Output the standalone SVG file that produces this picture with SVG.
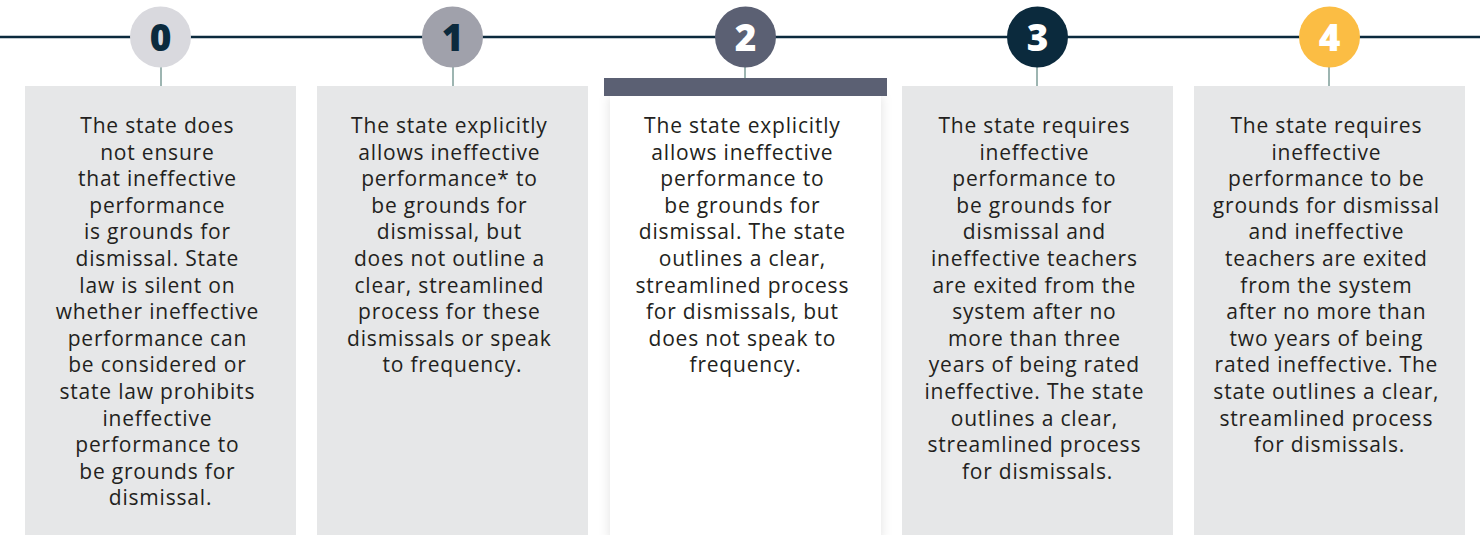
<svg xmlns="http://www.w3.org/2000/svg" width="1480" height="535" viewBox="0 0 1480 535">
  <defs>
    <filter id="lift" x="-10%" y="-10%" width="120%" height="120%">
      <feDropShadow dx="0" dy="0" stdDeviation="6" flood-color="#000" flood-opacity="0.12"/>
    </filter>
    <style>
      .card { fill: #e6e7e8; }
      .stem { stroke: #9db5b1; stroke-width: 2; }
      .rail { stroke: #0b2a3d; stroke-width: 2.5; fill: none; }
      .num { font-family: "Open Sans", "Liberation Sans", sans-serif; font-weight: 800; font-size: 37px; text-anchor: middle; }
      .body { font-family: "Open Sans", "Liberation Sans", sans-serif; font-size: 21px; letter-spacing: 0.8px; fill: #231f20; text-anchor: middle; }
    </style>
  </defs>
  <rect width="1480" height="535" fill="#ffffff"/>

  <!-- timeline rail and stems -->
  <g id="connectors">
    <line class="rail" x1="0" y1="37" x2="1480" y2="37"/>
    <line class="stem" x1="161" y1="67" x2="161" y2="86"/>
    <line class="stem" x1="453" y1="67" x2="453" y2="86"/>
    <line class="stem" x1="745" y1="67" x2="745" y2="78"/>
    <line class="stem" x1="1037" y1="67" x2="1037" y2="86"/>
    <line class="stem" x1="1329" y1="67" x2="1329" y2="86"/>
  </g>

  <g id="level-0">
    <circle cx="160.5" cy="37" r="30.5" fill="#d9d9de"/>
    <text class="num" x="160.5" y="50.5" fill="#0b2a3d">0</text>
    <rect class="card" x="25" y="86" width="271" height="449"/>
    <text class="body">
      <tspan x="160.5" y="133">The state does</tspan>
      <tspan x="160.5" y="159.6">not ensure</tspan>
      <tspan x="160.5" y="186.2">that ineffective</tspan>
      <tspan x="160.5" y="212.8">performance</tspan>
      <tspan x="160.5" y="239.4">is grounds for</tspan>
      <tspan x="160.5" y="266">dismissal. State</tspan>
      <tspan x="160.5" y="292.6">law is silent on</tspan>
      <tspan x="160.5" y="319.2">whether ineffective</tspan>
      <tspan x="160.5" y="345.8">performance can</tspan>
      <tspan x="160.5" y="372.4">be considered or</tspan>
      <tspan x="160.5" y="399">state law prohibits</tspan>
      <tspan x="160.5" y="425.6">ineffective</tspan>
      <tspan x="160.5" y="452.2">performance to</tspan>
      <tspan x="160.5" y="478.8">be grounds for</tspan>
      <tspan x="160.5" y="505.4">dismissal.</tspan>
    </text>
  </g>

  <g id="level-1">
    <circle cx="452.5" cy="37" r="30.5" fill="#a0a1ab"/>
    <text class="num" x="452.5" y="50.5" fill="#0b2a3d">1</text>
    <rect class="card" x="317" y="86" width="271" height="449"/>
    <text class="body">
      <tspan x="452.5" y="133">The state explicitly</tspan>
      <tspan x="452.5" y="159.6">allows ineffective</tspan>
      <tspan x="452.5" y="186.2">performance* to</tspan>
      <tspan x="452.5" y="212.8">be grounds for</tspan>
      <tspan x="452.5" y="239.4">dismissal, but</tspan>
      <tspan x="452.5" y="266">does not outline a</tspan>
      <tspan x="452.5" y="292.6">clear, streamlined</tspan>
      <tspan x="452.5" y="319.2">process for these</tspan>
      <tspan x="452.5" y="345.8">dismissals or speak</tspan>
      <tspan x="452.5" y="372.4">to frequency.</tspan>
    </text>
  </g>

  <g id="level-2">
    <circle cx="745.5" cy="37" r="30.5" fill="#5b6073"/>
    <text class="num" x="745.5" y="50.5" fill="#ffffff">2</text>
    <rect x="610" y="96" width="271" height="445" fill="#ffffff" filter="url(#lift)"/>
    <rect x="604" y="78" width="283" height="18" fill="#5b6073"/>
    <text class="body">
      <tspan x="745.5" y="133">The state explicitly</tspan>
      <tspan x="745.5" y="159.6">allows ineffective</tspan>
      <tspan x="745.5" y="186.2">performance to</tspan>
      <tspan x="745.5" y="212.8">be grounds for</tspan>
      <tspan x="745.5" y="239.4">dismissal. The state</tspan>
      <tspan x="745.5" y="266">outlines a clear,</tspan>
      <tspan x="745.5" y="292.6">streamlined process</tspan>
      <tspan x="745.5" y="319.2">for dismissals, but</tspan>
      <tspan x="745.5" y="345.8">does not speak to</tspan>
      <tspan x="745.5" y="372.4">frequency.</tspan>
    </text>
  </g>

  <g id="level-3">
    <circle cx="1037.5" cy="37" r="30.5" fill="#0b2a3d"/>
    <text class="num" x="1037.5" y="50.5" fill="#ffffff">3</text>
    <rect class="card" x="902" y="86" width="271" height="449"/>
    <text class="body">
      <tspan x="1037.5" y="133">The state requires</tspan>
      <tspan x="1037.5" y="159.6">ineffective</tspan>
      <tspan x="1037.5" y="186.2">performance to</tspan>
      <tspan x="1037.5" y="212.8">be grounds for</tspan>
      <tspan x="1037.5" y="239.4">dismissal and</tspan>
      <tspan x="1037.5" y="266">ineffective teachers</tspan>
      <tspan x="1037.5" y="292.6">are exited from the</tspan>
      <tspan x="1037.5" y="319.2">system after no</tspan>
      <tspan x="1037.5" y="345.8">more than three</tspan>
      <tspan x="1037.5" y="372.4">years of being rated</tspan>
      <tspan x="1037.5" y="399">ineffective. The state</tspan>
      <tspan x="1037.5" y="425.6">outlines a clear,</tspan>
      <tspan x="1037.5" y="452.2">streamlined process</tspan>
      <tspan x="1037.5" y="478.8">for dismissals.</tspan>
    </text>
  </g>

  <g id="level-4">
    <circle cx="1329.5" cy="37" r="30.5" fill="#fbbd44"/>
    <text class="num" x="1329.5" y="50.5" fill="#ffffff">4</text>
    <rect class="card" x="1194" y="86" width="271" height="449"/>
    <text class="body">
      <tspan x="1329.5" y="133">The state requires</tspan>
      <tspan x="1329.5" y="159.6">ineffective</tspan>
      <tspan x="1329.5" y="186.2">performance to be</tspan>
      <tspan x="1329.5" y="212.8">grounds for dismissal</tspan>
      <tspan x="1329.5" y="239.4">and ineffective</tspan>
      <tspan x="1329.5" y="266">teachers are exited</tspan>
      <tspan x="1329.5" y="292.6">from the system</tspan>
      <tspan x="1329.5" y="319.2">after no more than</tspan>
      <tspan x="1329.5" y="345.8">two years of being</tspan>
      <tspan x="1329.5" y="372.4">rated ineffective. The</tspan>
      <tspan x="1329.5" y="399">state outlines a clear,</tspan>
      <tspan x="1329.5" y="425.6">streamlined process</tspan>
      <tspan x="1329.5" y="452.2">for dismissals.</tspan>
    </text>
  </g>
</svg>
